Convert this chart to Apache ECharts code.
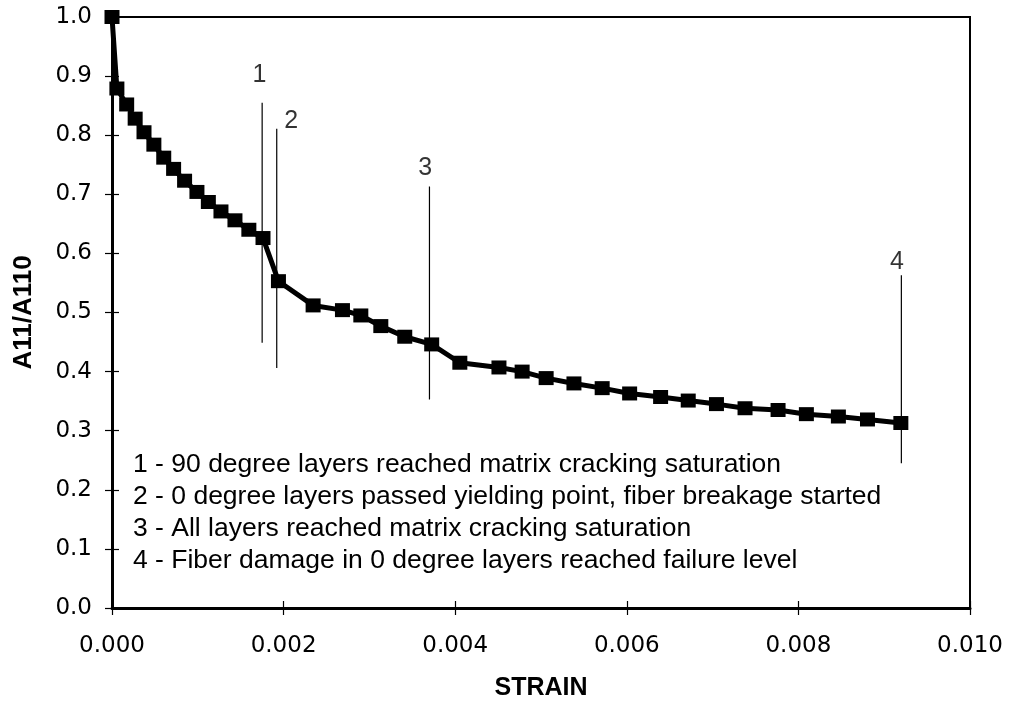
<!DOCTYPE html>
<html>
<head>
<meta charset="utf-8">
<script src="https://cdn.jsdelivr.net/npm/echarts@6/dist/echarts.min.js"></script>
<style>
html,body{margin:0;padding:0;background:#fff;}
#c{width:1015px;height:706px;}
</style>
</head>
<body>
<div id="c"></div>
<script>
// ---- data ----
const strain = [0, 0.000057, 0.000171, 0.00027, 0.000373, 0.000488, 0.000603, 0.000718, 0.000846, 0.00099,
  0.001123, 0.00127, 0.001433, 0.001595, 0.00176, 0.00194, 0.002344, 0.002686, 0.0029, 0.003133,
  0.003412, 0.003726, 0.004054, 0.00451, 0.00478, 0.00506, 0.005384, 0.005713, 0.006033, 0.006394,
  0.006716, 0.007045, 0.007378, 0.007763, 0.008093, 0.008466, 0.008805, 0.009194];
const ratio = [1.0, 0.879, 0.852, 0.828, 0.805, 0.784, 0.762, 0.743, 0.723, 0.704,
  0.687, 0.671, 0.656, 0.640, 0.626, 0.553, 0.512, 0.504, 0.495, 0.477,
  0.459, 0.446, 0.415, 0.407, 0.400, 0.389, 0.380, 0.372, 0.363, 0.357,
  0.351, 0.345, 0.338, 0.335, 0.328, 0.324, 0.319, 0.313];

const eventNames = ['1', '2', '3', '4'];
const eventStrain = [0.00175, 0.00192, 0.00370, 0.00920];
const eventLineTop = [0.855, 0.811, 0.713, 0.563];
const eventLineBottom = [0.449, 0.406, 0.353, 0.245];
const eventLabelStrain = [0.00172, 0.00209, 0.00365, 0.00915];
const eventLabelY = [0.902, 0.824, 0.744, 0.585];

const notes = [
  '1 - 90 degree layers reached matrix cracking saturation',
  '2 - 0 degree layers passed yielding point, fiber breakage started',
  '3 - All layers reached matrix cracking saturation',
  '4 - Fiber damage in 0 degree layers reached failure level'
];

const xTickLabels = ['0.000', '0.002', '0.004', '0.006', '0.008', '0.010'];
const yTickLabels = ['0.0', '0.1', '0.2', '0.3', '0.4', '0.5', '0.6', '0.7', '0.8', '0.9', '1.0'];

// ---- chart ----
const chart = echarts.init(document.getElementById('c'), null, {renderer: 'canvas'});
const tickFont = {fontFamily: 'DejaVu Sans', fontSize: 23, color: '#000'};

const xBase = {type: 'value', min: 0, max: 0.010, interval: 0.002, splitLine: {show: false}};
const yBase = {type: 'value', min: 0, max: 1.0, interval: 0.1, splitLine: {show: false}};

const series = [{
  type: 'line',
  data: strain.map((s, i) => [s, ratio[i]]),
  symbol: 'rect',
  symbolSize: [15, 14],
  lineStyle: {color: '#000', width: 5},
  itemStyle: {color: '#000'},
  z: 5,
  animation: false
}];
eventNames.forEach((n, i) => {
  series.push({
    type: 'line',
    data: [[eventStrain[i], eventLineBottom[i]], [eventStrain[i], eventLineTop[i]]],
    symbol: 'none',
    lineStyle: {color: '#000', width: 1.2},
    z: 3,
    animation: false
  });
  series.push({
    type: 'scatter',
    data: [[eventLabelStrain[i], eventLabelY[i]]],
    symbolSize: 0,
    label: {show: true, position: 'inside', formatter: n, fontFamily: 'Liberation Sans', fontSize: 25, color: '#000'},
    animation: false
  });
});

chart.setOption({
  backgroundColor: '#fff',
  animation: false,
  grid: {left: 112, right: 45, top: 17, bottom: 95, show: true, borderColor: '#000', borderWidth: 2, containLabel: false},
  xAxis: [
    Object.assign({}, xBase, {
      position: 'bottom',
      name: 'STRAIN', nameLocation: 'middle', nameGap: 68,
      nameTextStyle: {fontFamily: 'Liberation Sans', fontWeight: 'bold', fontSize: 25, color: '#000'},
      axisLine: {show: true, lineStyle: {color: '#000', width: 3}},
      axisTick: {show: true, inside: false, length: 7, lineStyle: {color: '#000', width: 1.2}},
      axisLabel: Object.assign({margin: 27, formatter: (v, i) => xTickLabels[i]}, tickFont)
    }),
    Object.assign({}, xBase, {
      position: 'bottom',
      axisLine: {show: false},
      axisTick: {show: true, inside: true, length: 7, lineStyle: {color: '#000', width: 1.2}},
      axisLabel: {show: false}
    })
  ],
  yAxis: [
    Object.assign({}, yBase, {
      position: 'left',
      name: 'A11/A110', nameLocation: 'middle', nameGap: 75, nameRotate: 90,
      nameTextStyle: {fontFamily: 'Liberation Sans', fontWeight: 'bold', fontSize: 26, color: '#000'},
      axisLine: {show: true, lineStyle: {color: '#000', width: 3}},
      axisTick: {show: true, inside: false, length: 7, lineStyle: {color: '#000', width: 1.2}},
      axisLabel: Object.assign({margin: 20, formatter: (v, i) => yTickLabels[i]}, tickFont)
    }),
    Object.assign({}, yBase, {
      position: 'left',
      axisLine: {show: false},
      axisTick: {show: true, inside: true, length: 7, lineStyle: {color: '#000', width: 1.2}},
      axisLabel: {show: false}
    })
  ],
  graphic: notes.map((t, i) => ({
    type: 'text',
    left: 133,
    top: 451 + i * 32,
    style: {text: t, fontFamily: 'Liberation Sans', fontSize: 26.5, fill: '#000'},
    z: 10
  })),
  series: series
});
</script>
</body>
</html>
